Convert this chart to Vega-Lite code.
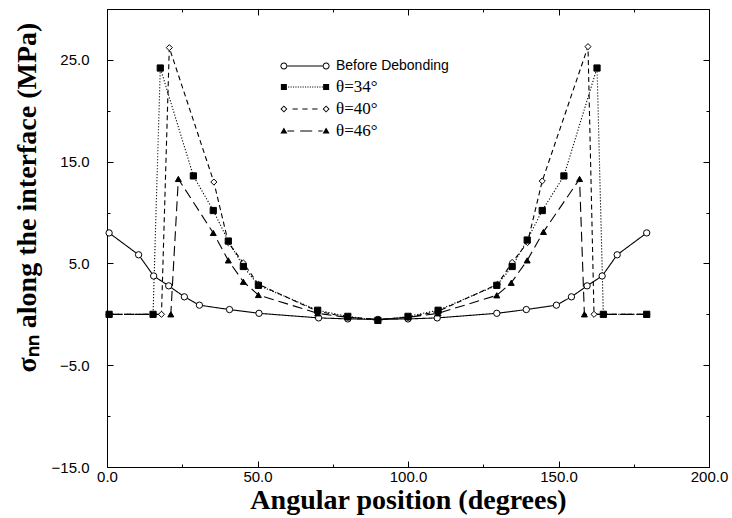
{
  "$schema": "https://vega.github.io/schema/vega-lite/v6.json",
  "width": 602,
  "height": 458,
  "autosize": {"type": "none"},
  "padding": {"left": 107, "top": 9, "right": 23, "bottom": 51},
  "background": "white",
  "config": {
    "view": {"stroke": null},
    "axis": {
      "domainColor": "black", "tickColor": "black", "labelColor": "black", "titleColor": "black",
      "grid": false, "labelFont": "Liberation Sans", "labelFontSize": 15,
      "titleFont": "Liberation Serif", "titleFontWeight": "bold", "titleFontSize": 28,
      "domainWidth": 1, "tickWidth": 1, "labelFlush": false, "labelOverlap": false
    }
  },
  "data": {
    "values": [
      {"a": 0.7, "s": 8.0, "series": "Before Debonding"},
      {"a": 10.5, "s": 5.85, "series": "Before Debonding"},
      {"a": 15.5, "s": 3.77, "series": "Before Debonding"},
      {"a": 20.5, "s": 2.8, "series": "Before Debonding"},
      {"a": 25.7, "s": 1.72, "series": "Before Debonding"},
      {"a": 30.7, "s": 0.9, "series": "Before Debonding"},
      {"a": 40.7, "s": 0.47, "series": "Before Debonding"},
      {"a": 50.5, "s": 0.1, "series": "Before Debonding"},
      {"a": 70.3, "s": -0.35, "series": "Before Debonding"},
      {"a": 80, "s": -0.45, "series": "Before Debonding"},
      {"a": 90, "s": -0.5, "series": "Before Debonding"},
      {"a": 100, "s": -0.45, "series": "Before Debonding"},
      {"a": 109.7, "s": -0.35, "series": "Before Debonding"},
      {"a": 129.5, "s": 0.1, "series": "Before Debonding"},
      {"a": 139.3, "s": 0.47, "series": "Before Debonding"},
      {"a": 149.3, "s": 0.9, "series": "Before Debonding"},
      {"a": 154.3, "s": 1.72, "series": "Before Debonding"},
      {"a": 159.5, "s": 2.8, "series": "Before Debonding"},
      {"a": 164.5, "s": 3.77, "series": "Before Debonding"},
      {"a": 169.5, "s": 5.85, "series": "Before Debonding"},
      {"a": 179.3, "s": 8.0, "series": "Before Debonding"},

      {"a": 0.7, "s": 0, "series": "θ=40°"},
      {"a": 18.1, "s": 0, "series": "θ=40°"},
      {"a": 20.7, "s": 26.2, "series": "θ=40°"},
      {"a": 35.5, "s": 13.0, "series": "θ=40°"},
      {"a": 40.3, "s": 7.05, "series": "θ=40°"},
      {"a": 45.3, "s": 5.05, "series": "θ=40°"},
      {"a": 50.3, "s": 2.95, "series": "θ=40°"},
      {"a": 70, "s": 0.3, "series": "θ=40°"},
      {"a": 80, "s": -0.3, "series": "θ=40°"},
      {"a": 90, "s": -0.5, "series": "θ=40°"},
      {"a": 100, "s": -0.3, "series": "θ=40°"},
      {"a": 110, "s": 0.3, "series": "θ=40°"},
      {"a": 129.7, "s": 2.95, "series": "θ=40°"},
      {"a": 134.6, "s": 5.1, "series": "θ=40°"},
      {"a": 139.7, "s": 7.05, "series": "θ=40°"},
      {"a": 144.6, "s": 13.1, "series": "θ=40°"},
      {"a": 159.8, "s": 26.3, "series": "θ=40°"},
      {"a": 161.8, "s": 0, "series": "θ=40°"},
      {"a": 179.3, "s": 0, "series": "θ=40°"},

      {"a": 0.7, "s": 0, "series": "θ=46°"},
      {"a": 21.2, "s": 0, "series": "θ=46°"},
      {"a": 23.7, "s": 13.3, "series": "θ=46°"},
      {"a": 35.3, "s": 8.0, "series": "θ=46°"},
      {"a": 40.3, "s": 5.3, "series": "θ=46°"},
      {"a": 45.3, "s": 3.2, "series": "θ=46°"},
      {"a": 50.3, "s": 1.9, "series": "θ=46°"},
      {"a": 70, "s": 0.1, "series": "θ=46°"},
      {"a": 80, "s": -0.3, "series": "θ=46°"},
      {"a": 90, "s": -0.5, "series": "θ=46°"},
      {"a": 100, "s": -0.3, "series": "θ=46°"},
      {"a": 110, "s": 0.1, "series": "θ=46°"},
      {"a": 129.5, "s": 1.87, "series": "θ=46°"},
      {"a": 134.3, "s": 3.1, "series": "θ=46°"},
      {"a": 139.6, "s": 5.3, "series": "θ=46°"},
      {"a": 145, "s": 8.1, "series": "θ=46°"},
      {"a": 157, "s": 13.3, "series": "θ=46°"},
      {"a": 158.6, "s": 0, "series": "θ=46°"},
      {"a": 179.3, "s": 0, "series": "θ=46°"},

      {"a": 0.7, "s": 0, "series": "θ=34°"},
      {"a": 15.3, "s": 0, "series": "θ=34°"},
      {"a": 17.7, "s": 24.2, "series": "θ=34°"},
      {"a": 28.7, "s": 13.6, "series": "θ=34°"},
      {"a": 35.3, "s": 10.2, "series": "θ=34°"},
      {"a": 40.3, "s": 7.2, "series": "θ=34°"},
      {"a": 45.3, "s": 4.7, "series": "θ=34°"},
      {"a": 50.3, "s": 2.85, "series": "θ=34°"},
      {"a": 70, "s": 0.4, "series": "θ=34°"},
      {"a": 80, "s": -0.2, "series": "θ=34°"},
      {"a": 90, "s": -0.6, "series": "θ=34°"},
      {"a": 100, "s": -0.2, "series": "θ=34°"},
      {"a": 110, "s": 0.4, "series": "θ=34°"},
      {"a": 129.5, "s": 2.85, "series": "θ=34°"},
      {"a": 134.6, "s": 4.7, "series": "θ=34°"},
      {"a": 139.6, "s": 7.3, "series": "θ=34°"},
      {"a": 144.6, "s": 10.2, "series": "θ=34°"},
      {"a": 151.8, "s": 13.6, "series": "θ=34°"},
      {"a": 162.8, "s": 24.2, "series": "θ=34°"},
      {"a": 164.9, "s": 0, "series": "θ=34°"},
      {"a": 179.3, "s": 0, "series": "θ=34°"}
    ]
  },
  "layer": [
    {
      "mark": {"type": "line", "color": "black", "strokeWidth": 1.1},
      "encoding": {
        "x": {
          "field": "a", "type": "quantitative",
          "scale": {"domain": [0, 200], "nice": false, "zero": false},
          "axis": {
            "orient": "bottom",
            "values": [0, 25, 50, 75, 100, 125, 150, 175, 200],
            "labelExpr": "datum.value % 50 === 0 ? format(datum.value, '.1f') : ''",
            "tickSize": {"condition": {"test": "datum.value % 50 === 0", "value": -6}, "value": -3},
            "labelPadding": 8,
            "title": "Angular position (degrees)",
            "titleY": 19,
            "titleBaseline": "top"
          }
        },
        "y": {
          "field": "s", "type": "quantitative",
          "scale": {"domain": [-15, 30], "nice": false, "zero": false},
          "axis": {
            "orient": "left",
            "values": [-15, -10, -5, 0, 5, 10, 15, 20, 25, 30],
            "labelExpr": "(datum.value + 15) % 10 === 0 ? format(datum.value, '.1f') : ''",
            "tickSize": {"condition": {"test": "(datum.value + 15) % 10 === 0", "value": -6}, "value": -3},
            "labelPadding": 24,
            "title": "σₙₙ along the interface (MPa)",
            "titleX": -66,
            "titleY": 188
          }
        },
        "strokeDash": {
          "field": "series", "type": "nominal",
          "scale": {"range": [[1, 0], [1.2, 1.8], [5, 3.5], [10, 5]]},
          "legend": null
        }
      }
    },
    {
      "mark": {"type": "point", "filled": true, "stroke": "black", "strokeWidth": 1, "opacity": 1},
      "encoding": {
        "x": {"field": "a", "type": "quantitative", "axis": null},
        "y": {"field": "s", "type": "quantitative", "axis": null},
        "shape": {
          "field": "series", "type": "nominal",
          "scale": {
            "domain": ["Before Debonding", "θ=34°", "θ=40°", "θ=46°"],
            "range": ["circle", "square", "diamond", "triangle-up"]
          },
          "legend": null
        },
        "fill": {
          "field": "series", "type": "nominal",
          "scale": {"range": ["white", "black", "white", "black"]},
          "legend": null
        },
        "size": {
          "field": "series", "type": "nominal",
          "scale": {"range": [40, 36, 28, 42]},
          "legend": null
        }
      }
    },
    {
      "mark": {"type": "point", "filled": true, "stroke": "black", "strokeWidth": 1, "opacity": 0},
      "encoding": {
        "x": {"field": "a", "type": "quantitative", "axis": null},
        "y": {"field": "s", "type": "quantitative", "axis": null},
        "shape": {
          "field": "series", "type": "nominal",
          "scale": {
            "domain": ["Before Debonding", "θ=34°", "θ=40°", "θ=46°"],
            "range": [
              "M-1.762,-0.055H1.762V0.055H-1.762ZM-2.462,0A0.35,0.35,0,1,1,-1.762,0A0.35,0.35,0,1,1,-2.462,0ZM-2.362,0A0.25,0.25,0,1,0,-1.862,0A0.25,0.25,0,1,0,-2.362,0ZM1.762,0A0.35,0.35,0,1,1,2.462,0A0.35,0.35,0,1,1,1.762,0ZM1.862,0A0.25,0.25,0,1,0,2.362,0A0.25,0.25,0,1,0,1.862,0Z",
              "M-1.68,-0.06h0.11v0.12h-0.11ZM-1.44,-0.06h0.11v0.12h-0.11ZM-1.2,-0.06h0.11v0.12h-0.11ZM-0.96,-0.06h0.11v0.12h-0.11ZM-0.72,-0.06h0.11v0.12h-0.11ZM-0.48,-0.06h0.11v0.12h-0.11ZM-0.24,-0.06h0.11v0.12h-0.11ZM0,-0.06h0.11v0.12h-0.11ZM0.24,-0.06h0.11v0.12h-0.11ZM0.48,-0.06h0.11v0.12h-0.11ZM0.72,-0.06h0.11v0.12h-0.11ZM0.96,-0.06h0.11v0.12h-0.11ZM1.2,-0.06h0.11v0.12h-0.11ZM1.44,-0.06h0.11v0.12h-0.11ZM1.68,-0.06h0.11v0.12h-0.11ZM-2.412,-0.3H-1.812V0.3H-2.412ZM1.812,-0.3H2.412V0.3H1.812Z",
              "M-1.25,-0.06H-0.72V0.06H-1.25ZM-0.26,-0.06H0.26V0.06H-0.26ZM0.72,-0.06H1.25V0.06H0.72ZM-2.462,0L-2.112,-0.35L-1.762,0L-2.112,0.35ZM-2.332,0L-2.112,0.22L-1.892,0L-2.112,-0.22ZM1.762,0L2.112,-0.35L2.462,0L2.112,0.35ZM1.892,0L2.112,0.22L2.332,0L2.112,-0.22Z",
              "M-1.76,-0.06H-1.08V0.06H-1.76ZM-0.48,-0.06H0.72V0.06H-0.48ZM1.32,-0.06H1.76V0.06H1.32ZM-2.462,0.26L-2.112,-0.36L-1.762,0.26ZM1.762,0.26L2.112,-0.36L2.462,0.26Z"
            ]
          },
          "legend": {
            "orient": "none",
            "legendX": 188,
            "legendY": 47,
            "title": null,
            "padding": 0,
            "symbolSize": 400,
            "symbolStrokeWidth": 0,
            "symbolOpacity": 1,
            "labelOffset": 21,
            "rowPadding": 4,
            "labelFont": {"expr": "datum.value === 'Before Debonding' ? 'Liberation Sans' : 'Liberation Serif, Times New Roman, serif'"},
            "labelFontSize": {"expr": "datum.value === 'Before Debonding' ? 14 : 17"},
            "labelColor": "black"
          }
        },
        "fill": {
          "field": "series", "type": "nominal",
          "scale": {
            "domain": ["Before Debonding", "θ=34°", "θ=40°", "θ=46°"],
            "range": ["black", "black", "black", "black"]
          },
          "legend": {
            "orient": "none",
            "legendX": 188,
            "legendY": 47,
            "title": null,
            "padding": 0,
            "symbolSize": 400,
            "symbolStrokeWidth": 0,
            "symbolOpacity": 1,
            "labelOffset": 21,
            "rowPadding": 4,
            "labelFont": {"expr": "datum.value === 'Before Debonding' ? 'Liberation Sans' : 'Liberation Serif, Times New Roman, serif'"},
            "labelFontSize": {"expr": "datum.value === 'Before Debonding' ? 14 : 17"},
            "labelColor": "black"
          }
        }
      }
    },
    {
      "mark": {"type": "point", "opacity": 0},
      "encoding": {
        "x": {
          "field": "a", "type": "quantitative",
          "axis": {
            "orient": "top", "labels": false, "title": null,
            "values": [0, 25, 50, 75, 100, 125, 150, 175, 200],
            "tickSize": {"condition": {"test": "datum.value % 50 === 0", "value": -6}, "value": -3}
          }
        },
        "y": {
          "field": "s", "type": "quantitative",
          "axis": {
            "orient": "right", "labels": false, "title": null,
            "values": [-15, -10, -5, 0, 5, 10, 15, 20, 25, 30],
            "tickSize": {"condition": {"test": "(datum.value + 15) % 10 === 0", "value": -6}, "value": -3}
          }
        }
      }
    }
  ],
  "resolve": {
    "axis": {"x": "independent", "y": "independent"},
    "scale": {"shape": "independent", "fill": "independent"}
  }
}
